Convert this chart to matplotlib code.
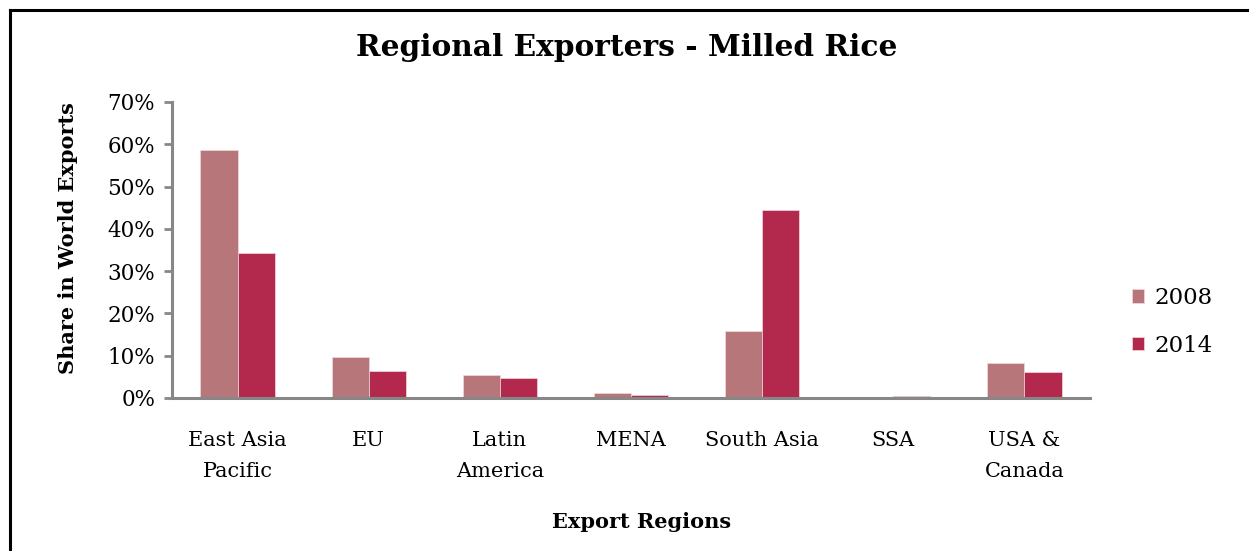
import matplotlib
matplotlib.use("Agg")
import matplotlib.pyplot as plt
import numpy as np
from matplotlib.lines import Line2D
from matplotlib.ticker import FuncFormatter

categories = ["East Asia\nPacific", "EU", "Latin\nAmerica", "MENA", "South Asia", "SSA", "USA &\nCanada"]
share_2008 = [58.6, 9.7, 5.4, 1.2, 15.8, 0.1, 8.3]
share_2014 = [34.3, 6.4, 4.7, 0.7, 44.4, 0.5, 6.1]
series_labels = ["2008", "2014"]
colors = ["#B7777A", "#B3294E"]
title = "Regional Exporters - Milled Rice"
xlabel = "Export Regions"
ylabel = "Share in World Exports"

plt.rcParams['font.family'] = ['DejaVu Serif']

fig = plt.figure(figsize=(12.49, 5.51), dpi=100)
ax = fig.add_axes([172/1249, 1-398/551, (1090-172)/1249, (398-102)/551])

x = np.arange(len(categories))
w = 0.283
ax.bar(x - w/2, share_2008, w, color=colors[0], label=series_labels[0], edgecolor="#f0d8dc", linewidth=0.5)
ax.bar(x + w/2, share_2014, w, color=colors[1], label=series_labels[1], edgecolor="#f0d8dc", linewidth=0.5)

ax.set_xlim(-0.5, len(categories) - 0.5)
ax.set_ylim(0, 70)
ax.set_yticks(np.arange(0, 71, 10))
ax.yaxis.set_major_formatter(FuncFormatter(lambda v, p: f"{int(v)}%"))
ax.set_xticks(x)
ax.set_xticklabels(categories, fontsize=15, linespacing=1.8)
ax.tick_params(axis='x', length=0, pad=24)
ax.tick_params(axis='y', length=6, width=2, color="#878787", labelsize=15.5, pad=6)

for s in ["top", "right"]:
    ax.spines[s].set_visible(False)
for s in ["left", "bottom"]:
    ax.spines[s].set_color("#878787")
    ax.spines[s].set_linewidth(2.2)

fig.text(627/1249, 1-47/551, title, ha="center", va="center", fontsize=21.3, fontweight="bold")
fig.text(642/1249, 1-522/551, xlabel, ha="center", va="center", fontsize=15, fontweight="bold")
fig.text(68/1249, 1-238/551, ylabel, ha="center", va="center", fontsize=15, fontweight="bold", rotation=90)

leg = fig.legend(loc="center left", bbox_to_anchor=(1111/1249, 1-322/551), frameon=False,
                 fontsize=16.5, handlelength=0.55, handleheight=0.55, handletextpad=0.45, labelspacing=1.1)

# border lines (top and left)
fig.add_artist(Line2D([10/1249, 1], [1-10/551, 1-10/551], color="black", linewidth=2.2, transform=fig.transFigure))
fig.add_artist(Line2D([10/1249, 10/1249], [0, 1-10/551], color="black", linewidth=2.2, transform=fig.transFigure))

fig.savefig("out.png", dpi=100)
